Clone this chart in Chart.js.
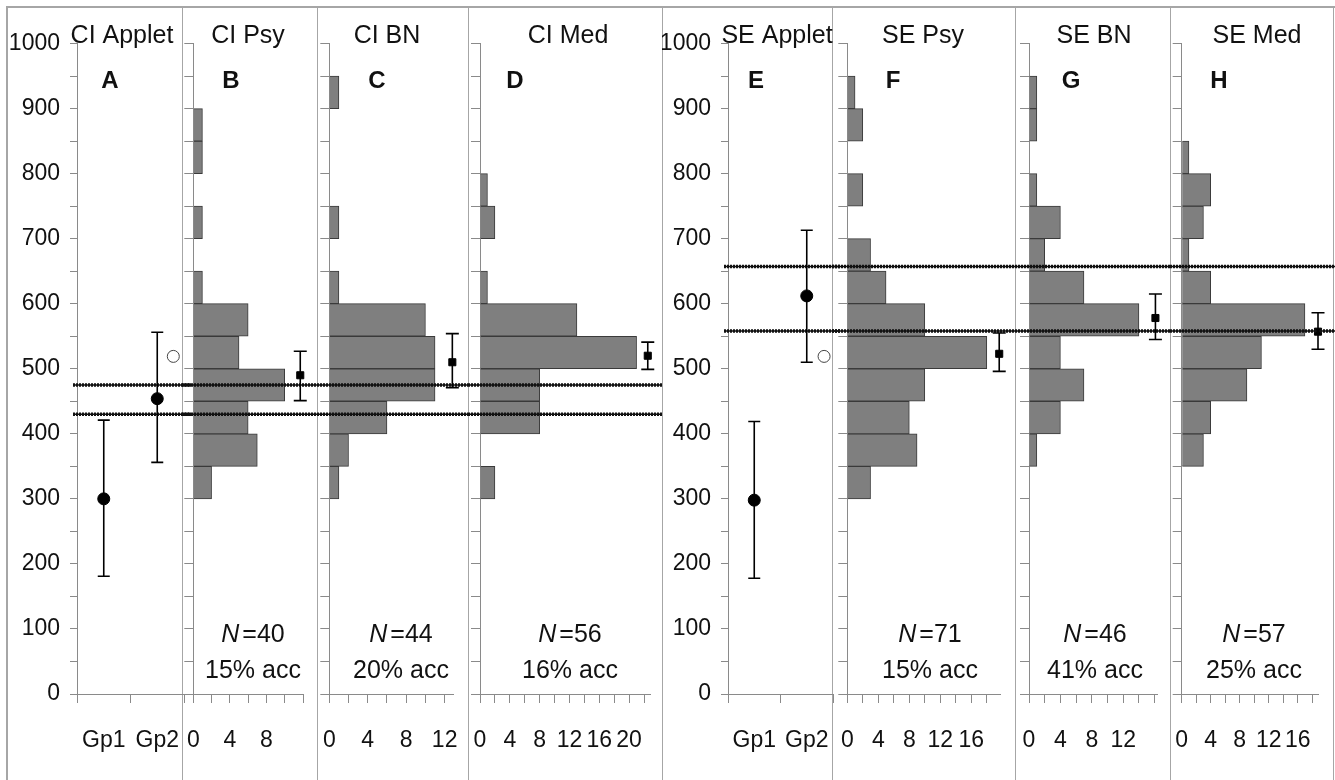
<!DOCTYPE html>
<html>
<head>
<meta charset="utf-8">
<title>CI / SE applet and histograms</title>
<script src="https://cdn.jsdelivr.net/npm/chart.js@4.4.1/dist/chart.umd.min.js"></script>
<style>
  body { margin: 0; background: #fff; }
  #fig { position: relative; width: 1335px; height: 780px; overflow: hidden; background: #fff; }
  #fig canvas { position: absolute; top: 0; }
  .rule { position: absolute; background: #a6a6a6; }
</style>
</head>
<body>
<div id="fig"></div>
<script>
// class lower edges (50 wide) for all histograms
var binStart = [300, 350, 400, 450, 500, 550, 600, 650, 700, 750, 800, 850, 900, 950];
var binWidth = 50;

// counts per class, same order as binStart
var ciPsy = [2, 7, 6, 10, 5, 6, 1, 0, 1, 0, 1, 1, 0, 0];
var ciBN  = [1, 2, 6, 11, 11, 10, 1, 0, 1, 0, 0, 0, 1, 0];
var ciMed = [2, 0, 8, 8, 21, 13, 1, 0, 2, 1, 0, 0, 0, 0];
var sePsy = [3, 9, 8, 10, 18, 10, 5, 3, 0, 2, 0, 2, 1, 0];
var seBN  = [0, 1, 4, 7, 4, 14, 7, 2, 4, 1, 0, 1, 1, 0];
var seMed = [0, 3, 4, 9, 11, 17, 4, 1, 3, 4, 1, 0, 0, 0];

// mean with interval for each histogram (B, C, D, F, G, H)
var histMean = [490, 510, 520, 523, 578, 557];
var histLo   = [451, 471, 499, 496, 545, 530];
var histHi   = [527, 554, 541, 555, 615, 586];
var nVals    = [40, 44, 56, 71, 46, 57];
var accPct   = [15, 20, 16, 15, 41, 25];

// applet groups
var groups = ['Gp1', 'Gp2'];
var ciAppletMean = [300, 454];
var ciAppletLo   = [181, 356];
var ciAppletHi   = [421, 556];
var ciAppletOpen = 519;
var seAppletMean = [298, 612];
var seAppletLo   = [178, 510];
var seAppletHi   = [419, 713];
var seAppletOpen = 519;

// horizontal reference lines
var ciLines = [475, 430];
var seLines = [657, 558];

// x tick labels shown under each histogram
var ticksB = [0, 4, 8];
var ticksC = [0, 4, 8, 12];
var ticksD = [0, 4, 8, 12, 16, 20];
var ticksF = [0, 4, 8, 12, 16];
var ticksG = [0, 4, 8, 12];
var ticksH = [0, 4, 8, 12, 16];

var FONT = '"Liberation Sans", Arial, sans-serif';
Chart.defaults.font.family = FONT;
Chart.defaults.color = '#111';
var axisGray = '#8a8a8a';

var fig = document.getElementById('fig');

function rule(x, y, w, h) {
  var d = document.createElement('div');
  d.className = 'rule';
  d.style.cssText = 'left:' + x + 'px;top:' + y + 'px;width:' + w + 'px;height:' + h + 'px';
  fig.appendChild(d);
}
rule(6, 6, 1329, 2);
rule(6, 6, 2, 774);
[182, 317, 468, 662, 832, 1015, 1170, 1333].forEach(function (x) { rule(x, 7, 1, 773); });

function addCanvas(left, width) {
  var c = document.createElement('canvas');
  c.width = width;
  c.height = 780;
  c.style.left = left + 'px';
  c.style.width = width + 'px';
  c.style.height = '780px';
  fig.appendChild(c);
  return c;
}

// thick dotted horizontal lines
var refLines = {
  id: 'refLines',
  afterDatasetsDraw: function (chart, args, o) {
    var ctx = chart.ctx, ys = chart.scales.y;
    var from = o.startAtAxis ? chart.chartArea.left - 4 : 0;
    ctx.save();
    ctx.strokeStyle = '#111';
    o.values.forEach(function (v) {
      var y = ys.getPixelForValue(v);
      ctx.setLineDash([]);
      ctx.lineWidth = 1.5;
      ctx.beginPath(); ctx.moveTo(from, y); ctx.lineTo(chart.width, y); ctx.stroke();
      ctx.setLineDash([2, 1]);
      ctx.lineWidth = 3.5;
      ctx.beginPath(); ctx.moveTo(from, y); ctx.lineTo(chart.width, y); ctx.stroke();
    });
    ctx.restore();
  }
};

// error bars
var whiskers = {
  id: 'whiskers',
  afterDatasetsDraw: function (chart, args, o) {
    var ctx = chart.ctx, xs = chart.scales[o.xAxis], ys = chart.scales.y;
    ctx.save();
    ctx.strokeStyle = '#000';
    ctx.lineWidth = 1.6;
    o.items.forEach(function (it) {
      var x = xs.getPixelForValue(it.x);
      var y1 = ys.getPixelForValue(it.lo), y2 = ys.getPixelForValue(it.hi);
      ctx.beginPath();
      ctx.moveTo(x, y1); ctx.lineTo(x, y2);
      ctx.moveTo(x - o.cap, y1); ctx.lineTo(x + o.cap, y1);
      ctx.moveTo(x - o.cap, y2); ctx.lineTo(x + o.cap, y2);
      ctx.stroke();
    });
    ctx.restore();
  }
};

// panel title, letter, N and accuracy text
var panelText = {
  id: 'panelText',
  afterDraw: function (chart, args, o) {
    var ctx = chart.ctx;
    ctx.save();
    ctx.fillStyle = '#111';
    ctx.textAlign = 'center';
    ctx.textBaseline = 'alphabetic';
    ctx.font = '25px ' + FONT;
    ctx.fillText(o.title, o.titleX - o.left, 43);
    ctx.font = 'bold 24px ' + FONT;
    ctx.fillText(o.letter, o.letterX - o.left, 88);
    if (o.n) {
      var italic = 'italic 25px ' + FONT, normal = '25px ' + FONT;
      ctx.font = italic;
      var wN = ctx.measureText('N').width;
      ctx.font = normal;
      var rest = '=' + o.n;
      var wR = ctx.measureText(rest).width;
      var gap = 3;
      var x0 = o.textX - o.left - (wN + gap + wR) / 2;
      ctx.textAlign = 'left';
      ctx.font = italic;
      ctx.fillText('N', x0, 642);
      ctx.font = normal;
      ctx.fillText(rest, x0 + wN + gap, 642);
      ctx.textAlign = 'center';
      ctx.fillText(o.acc + '% acc', o.textX - o.left, 678);
    }
    ctx.restore();
  }
};

function yAxis(width, labels) {
  return {
    type: 'linear', min: 0, max: 1000, offset: false,
    ticks: {
      stepSize: 50, display: labels, autoSkip: false, padding: 10,
      font: { size: 23 }, color: '#111',
      callback: function (v) { return v % 100 === 0 ? v : ''; }
    },
    grid: { drawOnChartArea: false, offset: false, color: axisGray, tickLength: labels ? 7 : 9 },
    border: { color: axisGray },
    afterFit: function (s) { s.width = width; }
  };
}

// x tick labels pushed down by a tall line height (padding would widen the side margins)
var xTickFont = { size: 23, lineHeight: 3.3 };
function fitX(s) {
  s.height = 86;
  s.paddingLeft = 0;
  s.paddingRight = 0;
}

function appletChart(p) {
  var cv = addCanvas(p.left, p.width);
  var pts = groups.map(function (g, i) { return { x: i + 0.5, y: p.mean[i] }; });
  var bars = groups.map(function (g, i) { return { x: i + 0.5, lo: p.lo[i], hi: p.hi[i] }; });
  return new Chart(cv, {
    type: 'scatter',
    data: {
      labels: groups,
      datasets: [
        { data: pts, xAxisID: 'xo', pointRadius: 6, borderWidth: 1, backgroundColor: '#000', borderColor: '#000' },
        { data: [{ x: p.openPos, y: p.open }], xAxisID: 'xo', pointRadius: 6, borderWidth: 1, backgroundColor: '#fff', borderColor: '#444' }
      ]
    },
    options: {
      responsive: false, devicePixelRatio: 1, animation: false, events: [],
      layout: { padding: { top: 43.5, right: p.pr, left: 0, bottom: 0 } },
      plugins: {
        legend: { display: false }, tooltip: { enabled: false },
        refLines: { values: p.lines, startAtAxis: true },
        whiskers: { xAxis: 'xo', items: bars, cap: 6 },
        panelText: { left: p.left, title: p.title, titleX: p.titleX, letter: p.letter, letterX: p.letterX }
      },
      scales: {
        x: {
          type: 'category', labels: groups, offset: true,
          grid: { offset: true, drawOnChartArea: false, color: axisGray, tickLength: 9 },
          border: { color: axisGray },
          ticks: { font: xTickFont, color: '#111', padding: 0, maxRotation: 0 },
          afterFit: fitX
        },
        xo: { type: 'linear', display: false, min: 0, max: 2 },
        y: yAxis(p.yw, true)
      }
    },
    plugins: [refLines, whiskers, panelText]
  });
}

function histChart(p) {
  var cv = addCanvas(p.left, p.width);
  var bars = binStart.map(function (b, i) { return { x: p.counts[i], y: b + binWidth / 2 }; })
    .filter(function (d) { return d.x > 0; });
  var k = p.k;
  return new Chart(cv, {
    type: 'bar',
    data: {
      datasets: [
        { type: 'bar', indexAxis: 'y', data: bars, backgroundColor: '#7f7f7f', borderColor: '#3a3a3a',
          borderWidth: 1, barPercentage: 1, categoryPercentage: 1 },
        { type: 'scatter', indexAxis: 'x', data: [{ x: p.mx, y: histMean[k] }], pointStyle: 'rect',
          pointRadius: 5, borderWidth: 1, backgroundColor: '#000', borderColor: '#000', clip: false }
      ]
    },
    options: {
      responsive: false, devicePixelRatio: 1, animation: false, events: [],
      layout: { padding: { top: 43.5, right: p.pr, left: 0, bottom: 0 } },
      plugins: {
        legend: { display: false }, tooltip: { enabled: false },
        refLines: { values: p.lines, startAtAxis: false },
        whiskers: { xAxis: 'x', items: [{ x: p.mx, lo: histLo[k], hi: histHi[k] }], cap: 6.5 },
        panelText: { left: p.left, title: p.title, titleX: p.titleX, letter: p.letter, letterX: p.letterX,
          n: nVals[k], acc: accPct[k], textX: p.textX }
      },
      scales: {
        x: {
          type: 'linear', min: 0, max: p.max, offset: false,
          ticks: {
            stepSize: 2, autoSkip: false, includeBounds: false, padding: 0, maxRotation: 0,
            font: xTickFont, color: '#111',
            callback: function (v) { return p.ticks.indexOf(v) >= 0 ? v : ''; }
          },
          grid: { drawOnChartArea: false, offset: false, color: axisGray, tickLength: 9 },
          border: { color: axisGray },
          afterFit: fitX
        },
        y: yAxis(p.yw, false)
      }
    },
    plugins: [refLines, whiskers, panelText]
  });
}

// the scatter layout keeps about 7px free on the right, so these canvases run a little wider
appletChart({ left: 8, width: 183, yw: 69, pr: 2, mean: ciAppletMean, lo: ciAppletLo, hi: ciAppletHi,
  open: ciAppletOpen, openPos: 1.8, lines: ciLines, title: 'CI Applet', titleX: 122, letter: 'A', letterX: 110 });
histChart({ k: 0, counts: ciPsy, ticks: ticksB, left: 182, width: 135, yw: 11.3, pr: 14, max: 12, mx: 11.7,
  lines: ciLines, title: 'CI Psy', titleX: 248, letter: 'B', letterX: 231, textX: 253 });
histChart({ k: 1, counts: ciBN, ticks: ticksC, left: 317, width: 151, yw: 12.3, pr: 14.7, max: 12.9, mx: 12.8,
  lines: ciLines, title: 'CI BN', titleX: 387, letter: 'C', letterX: 377, textX: 401 });
histChart({ k: 2, counts: ciMed, ticks: ticksD, left: 468, width: 194, yw: 12, pr: 12, max: 22.8, mx: 22.5,
  lines: ciLines, title: 'CI Med', titleX: 568, letter: 'D', letterX: 515, textX: 570 });

appletChart({ left: 662, width: 178, yw: 66, pr: 2, mean: seAppletMean, lo: seAppletLo, hi: seAppletHi,
  open: seAppletOpen, openPos: 1.83, lines: seLines, title: 'SE Applet', titleX: 777, letter: 'E', letterX: 756 });
histChart({ k: 3, counts: sePsy, ticks: ticksF, left: 832, width: 183, yw: 15.3, pr: 15, max: 19.7, mx: 19.6,
  lines: seLines, title: 'SE Psy', titleX: 923, letter: 'F', letterX: 893, textX: 930 });
histChart({ k: 4, counts: seBN, ticks: ticksG, left: 1015, width: 155, yw: 14, pr: 13, max: 16.3, mx: 16.1,
  lines: seLines, title: 'SE BN', titleX: 1094, letter: 'G', letterX: 1071, textX: 1095 });
histChart({ k: 5, counts: seMed, ticks: ticksH, left: 1170, width: 165, yw: 11.7, pr: 17, max: 18.8, mx: 18.8,
  lines: seLines, title: 'SE Med', titleX: 1257, letter: 'H', letterX: 1219, textX: 1254 });
</script>
</body>
</html>
